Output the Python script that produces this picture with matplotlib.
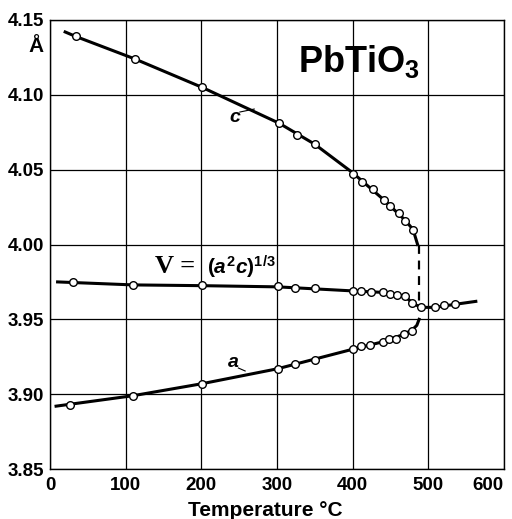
import matplotlib
matplotlib.use('Agg')
import matplotlib.pyplot as plt

plt.rcParams['font.family'] = ['Liberation Sans', 'DejaVu Sans']
plt.rcParams['mathtext.fontset'] = 'custom'
plt.rcParams['mathtext.rm'] = 'Liberation Sans:bold'
plt.rcParams['mathtext.bf'] = 'Liberation Sans:bold'
plt.rcParams['mathtext.it'] = 'Liberation Sans:bold:italic'

# measured points
c_temp = [34, 112, 201, 303, 326, 350, 400, 413, 427, 441, 450, 461, 470, 480]
c_val = [4.139, 4.124, 4.105, 4.081, 4.073, 4.067, 4.047, 4.042, 4.037, 4.030, 4.026, 4.021, 4.016, 4.010]

v_temp = [30, 110, 201, 301, 324, 350, 400, 411, 424, 440, 449, 459, 469, 479, 490, 509, 521, 535]
v_val = [3.975, 3.973, 3.9727, 3.972, 3.9707, 3.971, 3.969, 3.9687, 3.968, 3.968, 3.967, 3.966,
         3.9653, 3.961, 3.958, 3.958, 3.9593, 3.960]

a_temp = [26, 110, 201, 301, 324, 350, 400, 411, 423, 440, 448, 458, 468, 479]
a_val = [3.893, 3.899, 3.907, 3.917, 3.920, 3.923, 3.930, 3.932, 3.9327, 3.9347, 3.9367, 3.937, 3.940, 3.942]

# fitted curves
c_curve_t = [20, 34, 112, 201, 303, 350, 400, 441, 470, 480, 486]
c_curve_v = [4.142, 4.139, 4.124, 4.105, 4.081, 4.067, 4.048, 4.030, 4.016, 4.010, 4.000]
v_curve_t = [10, 110, 201, 301, 400, 440, 469, 479, 490, 509, 535, 563]
v_curve_v = [3.975, 3.973, 3.9725, 3.9717, 3.969, 3.968, 3.9655, 3.961, 3.958, 3.958, 3.960, 3.962]
a_curve_t = [8, 110, 201, 301, 400, 440, 468, 479, 485, 488]
a_curve_v = [3.892, 3.899, 3.907, 3.917, 3.930, 3.935, 3.940, 3.943, 3.946, 3.950]
jump_t = [488, 488]
jump_v = [4.000, 3.959]

xticks = [0, 100, 200, 300, 400, 500, 600]
yticks = [3.85, 3.90, 3.95, 4.00, 4.05, 4.10, 4.15]

fig = plt.figure(figsize=(5.12, 5.19), dpi=100)
ax = fig.add_axes([0.0977, 0.0963, 0.8863, 0.8652])

ax.plot(c_curve_t, c_curve_v, color='black', lw=2.2, zorder=3)
ax.plot(v_curve_t, v_curve_v, color='black', lw=2.2, zorder=3)
ax.plot(a_curve_t, a_curve_v, color='black', lw=2.2, zorder=3)
ax.plot(jump_t, jump_v, color='black', lw=1.6, ls=(0, (4, 3)), zorder=3)

for t, v in [(c_temp, c_val), (v_temp, v_val), (a_temp, a_val)]:
    ax.plot(t, v, ls='none', marker='o', ms=5.5, mfc='white', mec='black', mew=1, zorder=4)

ax.set_xlim(0, 600)
ax.set_ylim(3.85, 4.15)
ax.set_xticks(xticks)
ax.set_yticks(yticks)
ax.set_xticklabels([str(x) for x in xticks], fontsize=13.5, fontweight='bold')
ax.set_yticklabels(['%.2f' % y for y in yticks], fontsize=13.5, fontweight='bold')
ax.get_xticklabels()[-1].set_ha('right')
ax.tick_params(axis='x', length=0, pad=6)
ax.tick_params(axis='y', length=0, pad=4)
ax.grid(True, color='black', lw=0.9)
for s in ax.spines.values():
    s.set_linewidth(1)
ax.set_xlabel('Temperature °C', fontsize=15, fontweight='bold')
ax.xaxis.set_label_coords(0.474, -0.072)

ax.text(-19, 4.132, 'Å', fontsize=15, fontweight='bold', ha='center', va='center')
ax.text(409, 4.122, r'PbTiO$_{3}$', fontsize=26, fontweight='bold', ha='center', va='center')
ax.text(244, 4.085, 'c', fontsize=14, fontweight='bold', style='italic', ha='center', va='center')
ax.plot([251, 270], [4.0885, 4.0905], color='black', lw=0.8)
ax.text(242, 3.921, 'a', fontsize=14, fontweight='bold', style='italic', ha='center', va='center')
ax.plot([249, 258], [3.9175, 3.9155], color='black', lw=0.8)
ax.text(139, 3.985, 'V =', fontsize=19, fontweight='bold', family='Liberation Serif',
        ha='left', va='center')
ax.text(208, 3.985, r'$\mathit{(a^2c)^{1/3}}$', fontsize=15, ha='left', va='center')

fig.savefig('out.png', dpi=100)
